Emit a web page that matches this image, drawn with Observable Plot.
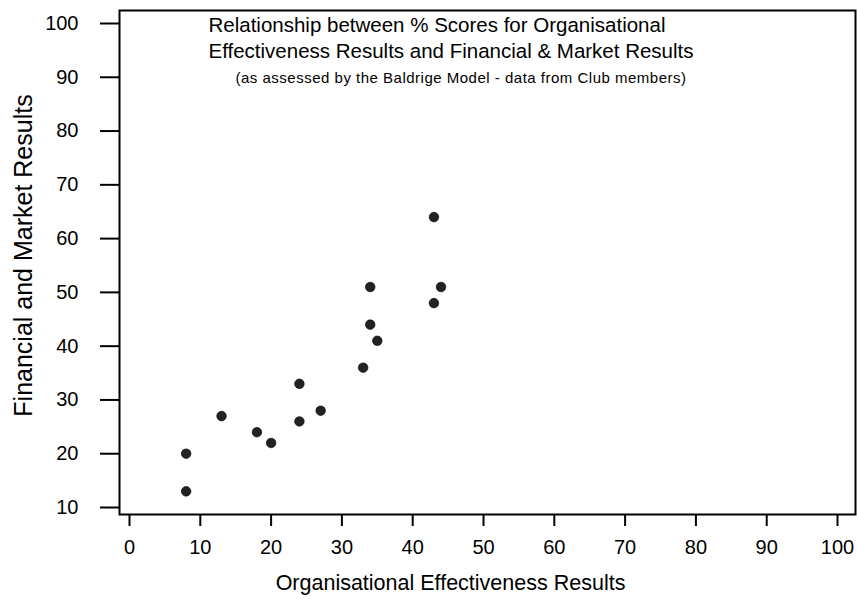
<!DOCTYPE html>
<html>
<head>
<meta charset="utf-8">
<script src="https://cdn.jsdelivr.net/npm/d3@7"></script>
<script src="https://cdn.jsdelivr.net/npm/@observablehq/plot@0.6"></script>
<style>
  html, body { margin: 0; padding: 0; background: #ffffff; }
  #chart svg { display: block; }
</style>
</head>
<body>
<div id="chart"></div>
<script>
// Data
const orgEffectiveness = [43, 34, 44, 43, 34, 35, 33, 24, 27, 13, 24, 18, 20, 8, 8];
const financialMarket  = [64, 51, 51, 48, 44, 41, 36, 33, 28, 27, 26, 24, 22, 20, 13];
const xTicks = [0, 10, 20, 30, 40, 50, 60, 70, 80, 90, 100];
const yTicks = [10, 20, 30, 40, 50, 60, 70, 80, 90, 100];
const titleLines = [
  "Relationship between % Scores for Organisational",
  "Effectiveness Results and Financial & Market Results"
];
const subtitle = "(as assessed by the Baldrige Model - data from Club members)";
const xTitle = "Organisational Effectiveness Results";
const yTitle = "Financial and Market Results";

const points = orgEffectiveness.map((x, i) => ({x, y: financialMarket[i]}));

const chart = Plot.plot({
  width: 857,
  height: 599,
  marginLeft: 119,
  marginRight: 2,
  marginTop: 10,
  marginBottom: 85,
  style: {fontFamily: "'Liberation Sans', Arial, sans-serif", background: "#ffffff", color: "#000000"},
  x: {domain: [-1.412, 102.54], axis: null},
  y: {domain: [8.698, 102.417], axis: null},
  marks: [
    Plot.axisX(xTicks, {tickSize: 12, tickPadding: 13, fontSize: 20, strokeWidth: 2, label: null}),
    Plot.axisY(yTicks, {tickSize: 19, tickPadding: 22, fontSize: 20, strokeWidth: 2, label: null}),
    Plot.frame({stroke: "#000000", strokeWidth: 2}),
    Plot.dot(points, {x: "x", y: "y", r: 4.8, fill: "#222222", stroke: "#000000", strokeWidth: 0.6}),
    Plot.text([titleLines[0]], {frameAnchor: "top-left", textAnchor: "start", lineAnchor: "middle", dx: 89, dy: 15, fontSize: 20.5}),
    Plot.text([titleLines[1]], {frameAnchor: "top-left", textAnchor: "start", lineAnchor: "middle", dx: 89, dy: 41, fontSize: 20.5}),
    Plot.text([subtitle], {frameAnchor: "top-left", textAnchor: "start", lineAnchor: "middle", dx: 116, dy: 68, fontSize: 15, className: "subtitle-line"}),
    Plot.text([xTitle], {frameAnchor: "bottom", textAnchor: "middle", lineAnchor: "middle", dx: -37, dy: 69, fontSize: 21.5}),
    Plot.text([yTitle], {frameAnchor: "left", textAnchor: "middle", lineAnchor: "middle", rotate: -90, dx: -96, dy: -7, fontSize: 25})
  ]
});
d3.select(chart).selectAll(".subtitle-line text").attr("letter-spacing", "0.5px");
document.getElementById("chart").appendChild(chart);
</script>
</body>
</html>
